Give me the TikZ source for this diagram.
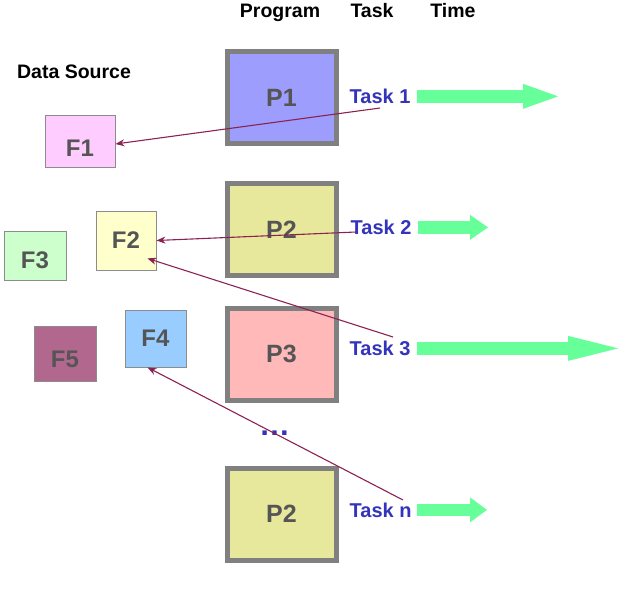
\documentclass[tikz,border=0pt]{standalone}
\usepackage{fontspec}
\setmainfont{Liberation Sans}
\usetikzlibrary{arrows.meta, positioning}
\definecolor{marcogris}{HTML}{808080}
\definecolor{bordefino}{HTML}{8C8C8C}
\definecolor{letragris}{HTML}{555555}
\definecolor{azultarea}{HTML}{3333BB}
\definecolor{verdetiempo}{HTML}{66FF99}
\definecolor{enlacerojo}{HTML}{8B2252}
\tikzstyle{titulo} = [inner sep=0pt, anchor=base, font=\fontsize{19.5}{19.5}\selectfont\bfseries]
\tikzstyle{programa} = [draw=marcogris, line width=5pt, rectangle, minimum width=109pt, minimum height=92pt, inner sep=0pt, text=letragris, font=\fontsize{25}{25}\selectfont\bfseries]
\tikzstyle{fuente} = [draw=bordefino, line width=0.8pt, rectangle, inner sep=0pt, text=letragris, font=\fontsize{24}{24}\selectfont\bfseries]
\tikzstyle{tarea} = [inner sep=0pt, anchor=base west, text=azultarea, font=\fontsize{20}{20}\selectfont\bfseries]
\tikzstyle{enlace} = [draw=enlacerojo, line width=1.1pt, -{Stealth[length=9pt, width=7pt]}]
\tikzset{tiempo/.style={draw=verdetiempo, line width=12.5pt, -{Triangle[length=#1, width=25pt, line width=0pt]}}}

\begin{document}
\begin{tikzpicture}[x=1pt, y=-1pt]
	\useasboundingbox (0,0) rectangle (621,590);
	\node[titulo] (hprog) at (280,17.5) {Program};
	\node[titulo] (htask) at (372,17.5) {Task};
	\node[titulo] (htime) at (453,17.5) {Time};
	\node[titulo] (hdata) at (74,78) {Data Source};

	\node[programa, fill={rgb,255:red,157;green,157;blue,253}] (P1) at (281.5,97.5) {P1};
	\node[programa, fill={rgb,255:red,232;green,232;blue,156}] (P2) at (281.5,229.5) {P2};
	\node[programa, fill={rgb,255:red,255;green,185;blue,185}] (P3) at (281.5,354) {P3};
	\node[programa, fill={rgb,255:red,232;green,232;blue,156}] (Pn) at (281.5,514) {P2};
	\node[inner sep=0pt, anchor=base, text=azultarea, font=\fontsize{31}{31}\selectfont\bfseries] (puntos) at (274.5,435.5) {…};

	\node[fuente, fill={rgb,255:red,255;green,204;blue,255}, minimum width=70pt, minimum height=52pt, text height=31pt] (F1) at (80,141) {F1};
	\node[fuente, fill={rgb,255:red,255;green,255;blue,204}, minimum width=60pt, minimum height=59pt] (F2) at (126,240.5) {F2};
	\node[fuente, fill={rgb,255:red,204;green,255;blue,204}, minimum width=62pt, minimum height=49pt, text height=26pt] (F3) at (35,255.5) {F3};
	\node[fuente, fill={rgb,255:red,153;green,204;blue,255}, minimum width=61pt, minimum height=57pt] (F4) at (155.5,338.5) {F4};
	\node[fuente, fill={rgb,255:red,178;green,104;blue,142}, minimum width=62pt, minimum height=55pt, text height=29pt] (F5) at (65,353.5) {F5};

	\node[tarea] (T1) at (349.5,103.5) {Task 1};
	\node[tarea] (T2) at (350.5,234.5) {Task 2};
	\node[tarea] (T3) at (349.5,355.5) {Task 3};
	\node[tarea] (Tn) at (349.5,517) {Task n};

	\coordinate (fin1) at (558,97);
	\coordinate (fin2) at (488,228);
	\coordinate (fin3) at (618,349);
	\coordinate (finn) at (487,510);
	\draw[tiempo=35pt] ([xshift=6pt]T1.east) -- (T1.east -| fin1);
	\draw[tiempo=18pt] ([xshift=6pt]T2.east) -- (T2.east -| fin2);
	\draw[tiempo=50pt] ([xshift=6pt]T3.east) -- (T3.east -| fin3);
	\draw[tiempo=17pt] ([xshift=5pt]Tn.east) -- (Tn.east -| finn);

	\coordinate (desde1) at (380,108);
	\coordinate (desde2) at (356,232);
	\coordinate (desde3) at (393,337);
	\coordinate (desden) at (403,500);
	\draw[enlace] (desde1) -- ([yshift=-3pt]F1.east);
	\draw[enlace] (desde2) -- (F2.east);
	\draw[enlace] (desde3) -- ([xshift=-9pt, yshift=12pt]F2.south east);
	\draw[enlace] (desden) -- ([xshift=-8pt]F4.south);
\end{tikzpicture}
\end{document}
